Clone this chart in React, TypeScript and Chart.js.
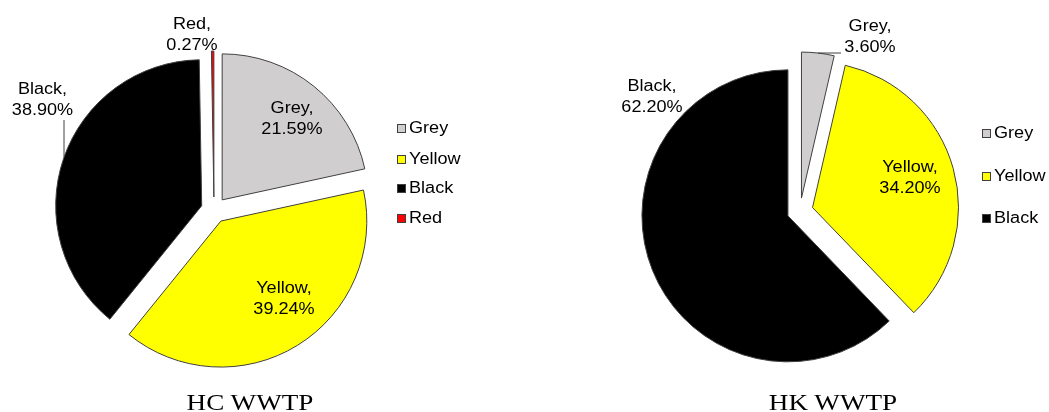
import React, { useEffect, useRef } from "react";
import { Chart, registerables } from "chart.js";

Chart.register(...registerables);

// ---------- data ----------
const hcCategories = ["Grey", "Yellow", "Black", "Red"];
const hcValues = [21.59, 39.24, 38.9, 0.27];
const hkCategories = ["Grey", "Yellow", "Black"];
const hkValues = [3.6, 34.2, 62.2];
const chartTitles = ["HC WWTP", "HK WWTP"];

// ---------- style ----------
const sliceColors: Record<string, string> = {
  Grey: "#D0CECE",
  Yellow: "#FFFF00",
  Black: "#000000",
  Red: "#FF0000",
};
const EDGE = "#404040";
const SANS = '"Liberation Sans", Arial, sans-serif';
const SERIF = '"Liberation Serif", "Times New Roman", serif';
const STRETCH = 1.13; // horizontal stretch seen in the reference text
const PIE_RADIUS = 146;
const EXPLODE = 13;

type PieLayout = {
  left: number;
  width: number;
  padding: { left: number; right: number; top: number; bottom: number };
  labelOffsets: Record<string, [number, number]>;
  leaders: [number, number, number, number][];
  legendMarkerX: number;
  legendTextX: number;
  legendYs: number[];
  titleX: number;
};

const hcLayout: PieLayout = {
  left: 0,
  width: 520,
  padding: { left: 0, right: 92, top: 8, bottom: 0 },
  labelOffsets: {
    Grey: [78, -91],
    Yellow: [70, 89.5],
    Black: [-171.5, -109.5],
    Red: [-22, -175],
  },
  leaders: [[-150, -90, -150, -53]],
  legendMarkerX: 397,
  legendTextX: 409,
  legendYs: [128, 158.5, 188, 218],
  titleX: 250,
};

const hkLayout: PieLayout = {
  left: 524,
  width: 525,
  padding: { left: 27, right: 0, top: 10, bottom: 0 },
  labelOffsets: {
    Grey: [70, -173.5],
    Yellow: [110, -33],
    Black: [-148, -113.5],
  },
  leaders: [[18, -158, 41, -158]],
  legendMarkerX: 982,
  legendTextX: 994,
  legendYs: [133, 176, 218],
  titleX: 832.5,
};

// ---------- plugins ----------
const explodePlugin = {
  id: "explode",
  afterDatasetsUpdate(chart: any, _args: any, opts: any) {
    const meta = chart.getDatasetMeta(0);
    meta.data.forEach((arc: any) => {
      const mid = (arc.startAngle + arc.endAngle) / 2;
      arc.x += Math.cos(mid) * opts.distance;
      arc.y += Math.sin(mid) * opts.distance;
    });
  },
};

const labelPlugin = {
  id: "sliceLabels",
  afterDatasetsDraw(chart: any, _args: any, opts: any) {
    const ctx = chart.ctx as CanvasRenderingContext2D;
    const a = chart.chartArea;
    const cx = (a.left + a.right) / 2;
    const cy = (a.top + a.bottom) / 2;
    ctx.save();
    ctx.strokeStyle = EDGE;
    ctx.lineWidth = 1;
    (opts.leaders as number[][]).forEach((l) => {
      ctx.beginPath();
      ctx.moveTo(cx + l[0], cy + l[1]);
      ctx.lineTo(cx + l[2], cy + l[3]);
      ctx.stroke();
    });
    ctx.font = `16px ${SANS}`;
    ctx.textAlign = "center";
    ctx.textBaseline = "middle";
    ctx.fillStyle = "#000000";
    const labels: string[] = chart.data.labels;
    const values: number[] = chart.data.datasets[0].data;
    labels.forEach((cat, i) => {
      const off = opts.offsets[cat];
      if (!off) return;
      const lines = [`${cat},`, `${values[i].toFixed(2)}%`];
      const x = cx + off[0];
      const y = cy + off[1];
      lines.forEach((t, k) => {
        ctx.save();
        ctx.translate(x, y + (k - 0.5) * 21);
        ctx.scale(STRETCH, 1);
        ctx.fillText(t, 0, 0);
        ctx.restore();
      });
    });
    ctx.restore();
  },
};

// ---------- components ----------
function PieChart({
  categories,
  values,
  layout,
}: {
  categories: string[];
  values: number[];
  layout: PieLayout;
}) {
  const ref = useRef<HTMLCanvasElement | null>(null);
  useEffect(() => {
    if (!ref.current) return;
    const chart = new Chart(ref.current, {
      type: "pie",
      data: {
        labels: categories,
        datasets: [
          {
            data: values,
            backgroundColor: categories.map((c) => sliceColors[c]),
            borderColor: EDGE,
            borderWidth: 1,
          },
        ],
      },
      options: {
        responsive: false,
        animation: false,
        events: [],
        radius: PIE_RADIUS,
        layout: { padding: layout.padding },
        plugins: {
          legend: { display: false },
          tooltip: { enabled: false },
          title: { display: false },
          explode: { distance: EXPLODE },
          sliceLabels: { offsets: layout.labelOffsets, leaders: layout.leaders },
        } as any,
      },
      plugins: [explodePlugin, labelPlugin],
    });
    return () => chart.destroy();
  }, [categories, values, layout]);

  return (
    <canvas
      ref={ref}
      width={layout.width}
      height={412}
      style={{ position: "absolute", left: layout.left, top: 0, width: layout.width, height: 412 }}
    />
  );
}

function Legend({ categories, layout }: { categories: string[]; layout: PieLayout }) {
  return (
    <>
      {categories.map((c, i) => (
        <div
          key={c}
          style={{
            position: "absolute",
            left: layout.legendMarkerX,
            top: layout.legendYs[i] - 10,
            height: 20,
            lineHeight: "20px",
            whiteSpace: "nowrap",
          }}
        >
          <span
            style={{
              position: "absolute",
              left: 0,
              top: 6,
              width: 7,
              height: 7,
              background: sliceColors[c],
              border: `1px solid ${EDGE}`,
            }}
          />
          <span
            style={{
              position: "absolute",
              left: layout.legendTextX - layout.legendMarkerX,
              top: 0,
              font: `16px ${SANS}`,
              lineHeight: "20px",
              color: "#000",
              transform: `scaleX(${STRETCH})`,
              transformOrigin: "left center",
            }}
          >
            {c}
          </span>
        </div>
      ))}
    </>
  );
}

function Title({ text, x }: { text: string; x: number }) {
  return (
    <div
      style={{
        position: "absolute",
        left: x,
        top: 390,
        font: `24px ${SERIF}`,
        lineHeight: "24px",
        whiteSpace: "nowrap",
        color: "#000",
        transform: `translateX(-50%) scaleX(${STRETCH})`,
      }}
    >
      {text}
    </div>
  );
}

export default function App() {
  return (
    <div
      style={{
        position: "absolute",
        left: 0,
        top: 0,
        width: 1049,
        height: 412,
        overflow: "hidden",
        background: "#ffffff",
      }}
    >
      <PieChart categories={hcCategories} values={hcValues} layout={hcLayout} />
      <PieChart categories={hkCategories} values={hkValues} layout={hkLayout} />
      <Legend categories={hcCategories} layout={hcLayout} />
      <Legend categories={hkCategories} layout={hkLayout} />
      <Title text={chartTitles[0]} x={hcLayout.titleX} />
      <Title text={chartTitles[1]} x={hkLayout.titleX} />
    </div>
  );
}
